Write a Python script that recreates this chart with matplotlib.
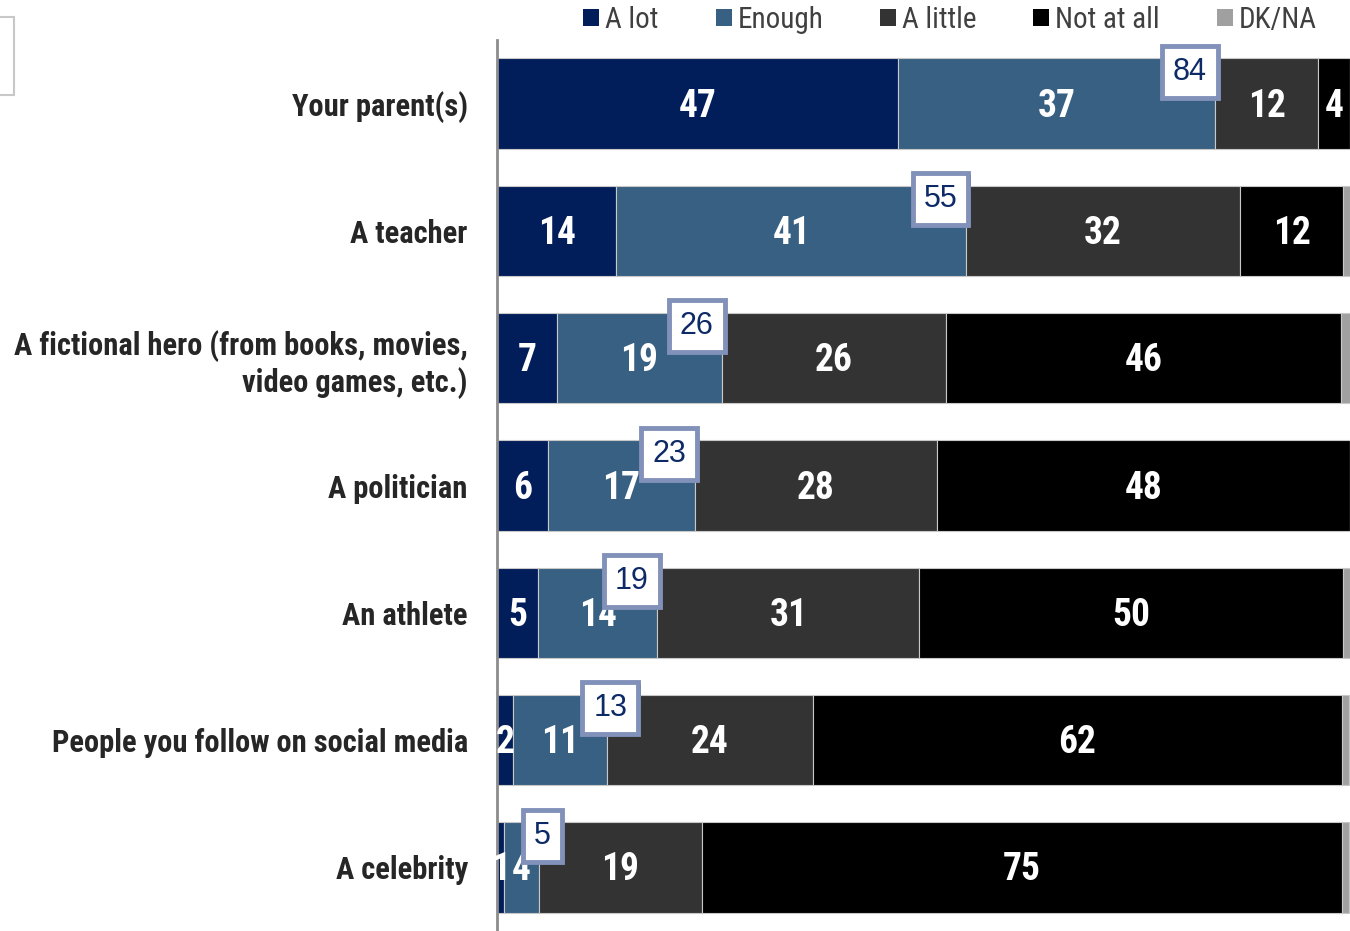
import matplotlib
matplotlib.use("Agg")
import matplotlib.pyplot as plt
import matplotlib.patheffects as pe
from matplotlib import font_manager
from matplotlib.patches import Patch, Rectangle

categories = [
    "Your parent(s)",
    "A teacher",
    "A fictional hero (from books, movies,\nvideo games, etc.)",
    "A politician",
    "An athlete",
    "People you follow on social media",
    "A celebrity",
]
series_names = ["A lot", "Enough", "A little", "Not at all", "DK/NA"]
a_lot = [47.0, 14.0, 7.0, 6.0, 4.8, 1.9, 0.8]
enough = [37.2, 41.0, 19.4, 17.2, 14.0, 11.0, 4.1]
a_little = [12.1, 32.1, 26.2, 28.4, 30.7, 24.1, 19.1]
not_at_all = [3.7, 12.1, 46.4, 48.4, 49.7, 62.1, 75.1]
dk_na = [0.0, 0.8, 1.0, 0.0, 0.8, 0.8, 0.8]
top2_labels = [84, 55, 26, 23, 19, 13, 5]

colors = ["#021E5A", "#386083", "#333333", "#000000", "#A0A0A0"]

installed = {f.name for f in font_manager.fontManager.ttflist}
narrow = "DejaVu Sans"
for cand in ["Liberation Sans Narrow", "Arial Narrow", "Roboto Condensed", "PT Sans Narrow"]:
    if cand in installed:
        narrow = cand
        break
regular = "Liberation Sans" if "Liberation Sans" in installed else "DejaVu Sans"

fig = plt.figure(figsize=(13.5, 9.31), dpi=100)
ax = fig.add_axes([497 / 1350, 0.0, 1 - 497 / 1350, (931 - 40) / 931])

series = [a_lot, enough, a_little, not_at_all, dk_na]
ypos = list(range(len(categories)))
left = [0.0] * len(categories)
for s, (name, vals, col) in enumerate(zip(series_names, series, colors)):
    ax.barh(ypos, vals, left=left, height=0.71, color=col,
            edgecolor="#C8C8C8", linewidth=0.8, label=name)
    if s < 4:
        for i, v in enumerate(vals):
            if v > 0:
                ax.text(left[i] + v / 2, i + 0.02, f"{round(v)}", ha="center", va="center",
                        color="white", fontsize=27, fontweight="bold", family=narrow)
    left = [l + v for l, v in zip(left, vals)]

# boxed "a lot + enough" totals, sitting on the top edge near the end of "Enough"
for i, t in enumerate(top2_labels):
    end = a_lot[i] + enough[i]
    xc = end - 3.0 if end > 15 else end + 0.4
    txt = ax.text(xc, i - 0.25, str(t), ha="center", va="center", fontsize=22,
                  color="#0E2A66", family=regular, zorder=5,
                  bbox=dict(boxstyle="square,pad=0.36", facecolor="white",
                            edgecolor="#8291B9", linewidth=3.5))
    txt.get_bbox_patch().set_path_effects(
        [pe.SimplePatchShadow(offset=(1.5, -1.5), shadow_rgbFace="#1C2F63", alpha=1.0),
         pe.Normal()])

ax.set_xlim(0, 100)
ax.set_ylim(6.5, -0.5)
ax.set_yticks(ypos)
ax.set_yticklabels(categories, fontsize=22, fontweight="bold", family=narrow,
                   color="#262626", ha="right", linespacing=1.2)
ax.tick_params(axis="y", length=0, pad=21)
ax.set_xticks([])
for side in ["top", "right", "bottom"]:
    ax.spines[side].set_visible(False)
ax.spines["left"].set_color("#8C8C8C")
ax.spines["left"].set_linewidth(2)

handles = [Patch(facecolor=c, edgecolor="none") for c in colors]
fig.legend(handles, series_names, loc="upper center", bbox_to_anchor=(950 / 1350, 1.022),
           ncol=5, frameon=False, prop={"family": narrow, "size": 21},
           labelcolor="#404040", handlelength=0.55, handleheight=0.55,
           handletextpad=0.2, columnspacing=1.95)

# stray frame at top-left corner
fig.patches.append(Rectangle((-10 / 1350, (931 - 95) / 931), 24 / 1350, 78 / 931,
                             transform=fig.transFigure, fill=False,
                             edgecolor="#C8C8C8", linewidth=1.5))

fig.savefig("out.png", dpi=100)
